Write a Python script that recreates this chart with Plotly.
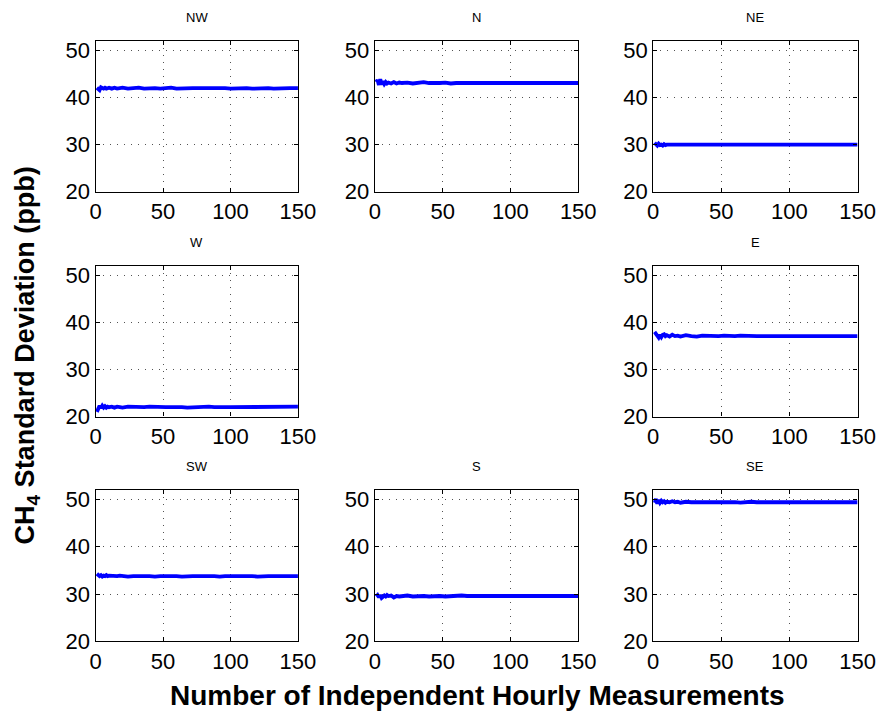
import plotly.graph_objects as go

# Number of independent hourly measurements used for each estimate
n_meas = [1, 2, 3, 4, 5, 6, 7, 8, 9, 10, 12, 14, 16, 18, 20, 24, 28, 32, 36, 40,
          44, 48, 52, 56, 60, 64, 68, 72, 76, 80, 84, 88, 92, 96, 100, 104, 108,
          112, 116, 120, 124, 128, 132, 136, 140, 144, 148, 150]

# CH4 standard deviation (ppb) per wind sector
sd_nw = [42.1, 41.8, 41.6, 42.2, 42.1, 41.9, 42.1, 41.9, 42.0, 42.1,
         41.9, 42.1, 41.9, 42.0, 42.1, 41.9, 42.0, 42.1, 41.9, 42.0,
         42.0, 41.9, 42.0, 42.1, 41.9, 42.0, 42.1, 42.0, 42.0, 41.9,
         42.0, 42.0, 42.1, 42.0, 41.9, 42.0, 42.0, 42.0, 41.9, 42.0,
         42.0, 42.0, 41.9, 42.0, 42.0, 42.0, 42.0, 42.0]
sd_n = [43.3, 43.7, 42.7, 43.9, 42.8, 43.5, 42.9, 43.3, 43.0, 43.2,
        43.0, 43.3, 43.0, 43.2, 43.1, 43.2, 43.0, 43.2, 43.3, 43.1,
        43.0, 43.1, 43.2, 43.0, 43.1, 43.1, 43.2, 43.1, 43.1, 43.0,
        43.1, 43.2, 43.1, 43.1, 43.1, 43.0, 43.1, 43.1, 43.1, 43.1,
        43.1, 43.1, 43.0, 43.1, 43.1, 43.1, 43.1, 43.1]
sd_ne = [30.4, 30.1, 29.8, 30.2, 29.9, 30.0, 29.8, 30.1, 29.9, 30.0,
         30.0, 29.9, 30.0, 30.0, 29.9, 30.0, 30.0, 29.9, 30.0, 30.0,
         30.0, 29.9, 30.0, 30.0, 30.0, 29.9, 30.0, 30.0, 30.0, 30.0,
         29.9, 30.0, 30.0, 30.0, 30.0, 30.0, 29.9, 30.0, 30.0, 30.0,
         30.0, 30.0, 30.0, 29.9, 30.0, 30.0, 30.0, 30.0]
sd_w = [21.0, 21.7, 22.3, 21.8, 22.3, 21.9, 22.2, 21.9, 22.1, 22.0,
        22.1, 21.9, 22.1, 22.0, 21.9, 22.1, 22.0, 21.9, 22.0, 22.1,
        22.0, 21.9, 22.0, 22.0, 22.1, 22.0, 21.9, 22.0, 22.0, 22.0,
        22.1, 22.0, 21.9, 22.0, 22.0, 22.0, 22.1, 22.0, 21.9, 22.0,
        22.0, 22.0, 22.0, 22.1, 22.0, 22.0, 22.0, 22.1]
sd_e = [38.0, 37.6, 37.2, 36.8, 37.4, 36.9, 37.4, 37.5, 37.1, 37.3,
        37.0, 37.4, 37.1, 37.2, 37.0, 37.3, 37.1, 37.0, 37.2, 37.1,
        37.2, 37.1, 37.2, 37.1, 37.1, 37.2, 37.1, 37.2, 37.1, 37.1,
        37.2, 37.1, 37.1, 37.2, 37.1, 37.1, 37.1, 37.2, 37.1, 37.1,
        37.1, 37.2, 37.1, 37.1, 37.1, 37.2, 37.1, 37.1]
sd_sw = [34.3, 34.1, 33.8, 34.0, 33.7, 33.9, 33.8, 34.0, 33.8, 33.9,
         33.8, 33.9, 33.8, 33.9, 33.8, 33.7, 33.8, 33.9, 33.8, 33.8,
         33.7, 33.8, 33.8, 33.9, 33.8, 33.7, 33.8, 33.8, 33.8, 33.9,
         33.8, 33.8, 33.7, 33.8, 33.8, 33.9, 33.8, 33.8, 33.8, 33.7,
         33.8, 33.8, 33.8, 33.9, 33.8, 33.8, 33.8, 33.8]
sd_s = [29.5, 29.8, 29.3, 29.8, 29.2, 29.6, 29.7, 29.5, 29.8, 29.6,
        29.7, 29.3, 29.6, 29.5, 29.6, 29.7, 29.5, 29.6, 29.6, 29.5,
        29.6, 29.6, 29.5, 29.6, 29.6, 29.7, 29.6, 29.5, 29.6, 29.6,
        29.5, 29.6, 29.6, 29.6, 29.5, 29.6, 29.6, 29.6, 29.5, 29.6,
        29.6, 29.5, 29.6, 29.6, 29.6, 29.5, 29.6, 29.6]
sd_se = [49.3, 50.1, 49.1, 49.9, 49.3, 49.7, 49.4, 49.6, 49.3, 49.5,
         49.4, 49.6, 49.4, 49.5, 49.3, 49.5, 49.4, 49.5, 49.4, 49.4,
         49.5, 49.4, 49.4, 49.5, 49.4, 49.3, 49.4, 49.5, 49.4, 49.4,
         49.4, 49.5, 49.4, 49.4, 49.4, 49.5, 49.4, 49.4, 49.3, 49.4,
         49.4, 49.4, 49.5, 49.4, 49.4, 49.4, 49.4, 49.4]

sectors = ["NW", "N", "NE", "W", "E", "SW", "S", "SE"]
series = [sd_nw, sd_n, sd_ne, sd_w, sd_e, sd_sw, sd_s, sd_se]
x_ticks = [0, 50, 100, 150]
y_ticks = [20, 30, 40, 50]

W, H = 896, 719
# panel boxes in pixels: (left, right) per column, (top, bottom) per row
cols = [(92, 300), (379, 588), (665, 875)]
rows = [(39, 193), (269, 423), (498, 653)]
# grid cell (row, col) for each sector; the centre cell stays empty
cells = [(0, 0), (0, 1), (0, 2), (1, 0), (1, 2), (2, 0), (2, 1), (2, 2)]

font = "Liberation Sans, Arial, Helvetica, sans-serif"
fig = go.Figure()
annotations = []

for i, (name, ys, (r, c)) in enumerate(zip(sectors, series, cells), start=1):
    xa = "x" if i == 1 else f"x{i}"
    ya = "y" if i == 1 else f"y{i}"
    fig.add_trace(go.Scatter(
        x=n_meas, y=ys, mode="lines",
        line=dict(color="#0000FF", width=3.8),
        xaxis=xa, yaxis=ya, showlegend=False, hoverinfo="skip"))
    l, rr = cols[c]
    t, b = rows[r]
    common = dict(
        showline=True, linecolor="black", linewidth=1.2, mirror="ticks",
        ticks="inside", ticklen=4, tickcolor="black", tickwidth=1,
        showgrid=True, gridcolor="rgba(40,40,40,0.8)", gridwidth=1,
        griddash="1px,6px", zeroline=False,
        tickfont=dict(family=font, size=22, color="black"),
    )
    fig.layout[xa.replace("x", "xaxis")] = dict(
        common, domain=[l / W, rr / W], range=[0, 150],
        tickvals=x_ticks, anchor=ya, ticklabelstandoff=0)
    fig.layout[ya.replace("y", "yaxis")] = dict(
        common, domain=[1 - b / H, 1 - t / H], range=[20, 52],
        tickvals=y_ticks, anchor=xa, ticklabelstandoff=0)
    annotations.append(dict(
        text=name, x=(l + rr) / 2 / W, y=1 - (t - 24) / H,
        xref="paper", yref="paper", showarrow=False,
        font=dict(family=font, size=13, color="black"),
        xanchor="center", yanchor="middle"))

annotations.append(dict(
    text="<b>Number of Independent Hourly Measurements</b>",
    x=484 / W, y=1 - 708 / H, xref="paper", yref="paper", showarrow=False,
    font=dict(family=font, size=28, color="black"),
    xanchor="center", yanchor="middle"))
annotations.append(dict(
    text="<b>CH<sub>4</sub> Standard Deviation (ppb)</b>",
    x=22 / W, y=1 - 360 / H, xref="paper", yref="paper", showarrow=False,
    textangle=-90,
    font=dict(family=font, size=27, color="black"),
    xanchor="center", yanchor="middle"))

fig.update_layout(
    width=W, height=H, margin=dict(l=0, r=0, t=0, b=0),
    paper_bgcolor="white", plot_bgcolor="white",
    annotations=annotations,
)

fig.write_html("out.html")
